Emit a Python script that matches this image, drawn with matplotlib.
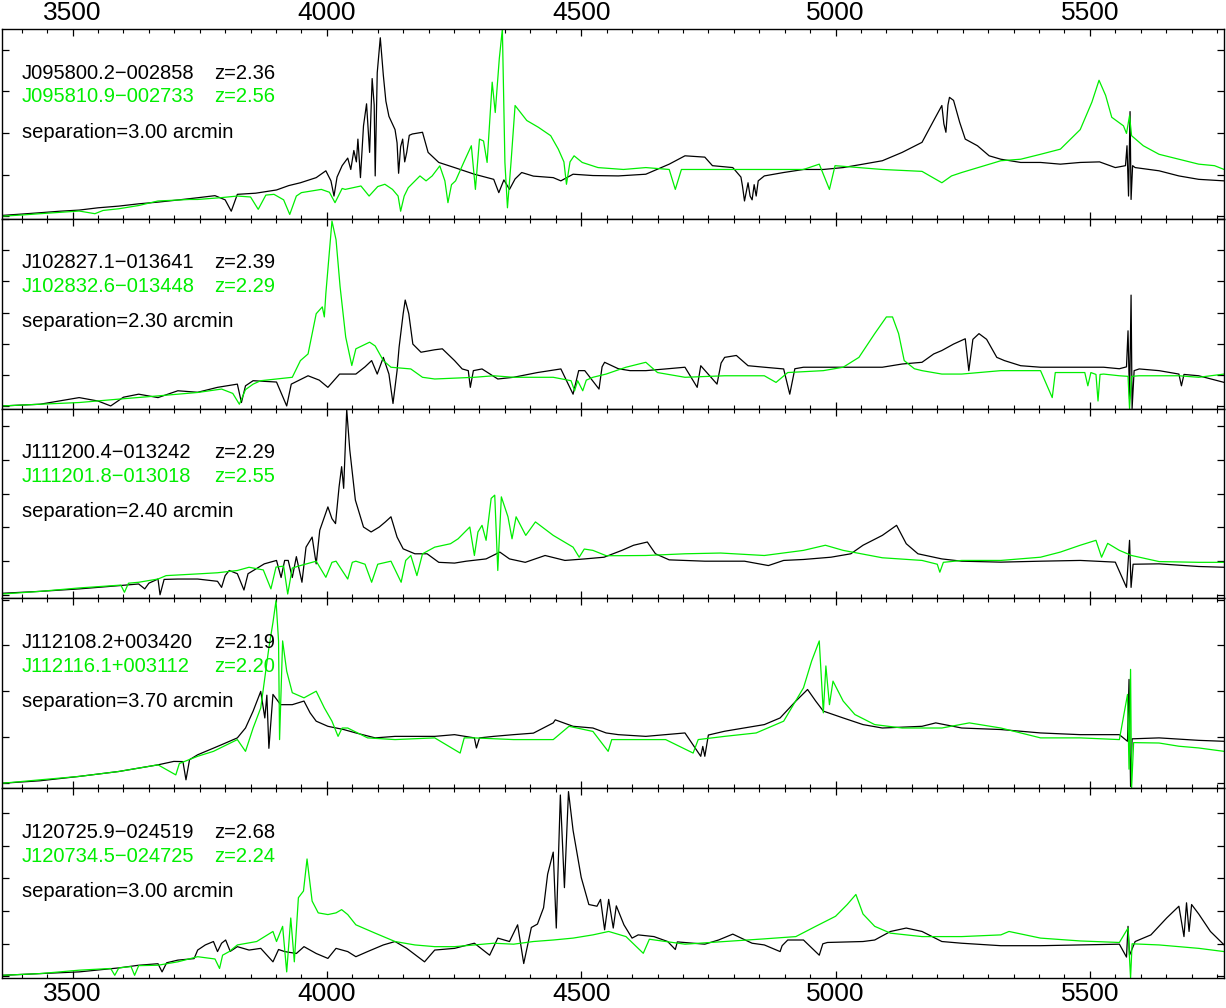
import matplotlib
matplotlib.use('Agg')
import matplotlib.pyplot as plt
from matplotlib.ticker import MultipleLocator, FixedLocator

plt.rcParams['font.family'] = ['Liberation Sans', 'DejaVu Sans']

# ---------------- labels ----------------
black_names = ['J095800.2\u2212002858', 'J102827.1\u2212013641', 'J111200.4\u2212013242',
               'J112108.2+003420', 'J120725.9\u2212024519']
green_names = ['J095810.9\u2212002733', 'J102832.6\u2212013448', 'J111201.8\u2212013018',
               'J112116.1+003112', 'J120734.5\u2212024725']
black_z = ['2.36', '2.39', '2.29', '2.19', '2.68']
green_z = ['2.56', '2.29', '2.55', '2.20', '2.24']
separations = ['3.00', '2.30', '2.40', '3.70', '3.00']

# y tick grid per panel (flux units)
ytick_start = [1.4, 1.4, 1.8, 2.6, 0.9]
ytick_step = [21.9, 16.4, 17.8, 24.2, 17.2]

# ---------------- spectra (wavelength in Angstrom, relative flux) ----------------
p1_black_wl = [3362, 3400, 3436, 3475, 3513, 3550, 3591, 3630, 3668, 3710, 3746, 3780, 3800, 3812, 3824, 3860,
               3901, 3925, 3948, 3979, 3998, 4008, 4014, 4020, 4030, 4041, 4047, 4053, 4058, 4061, 4066, 4072,
               4078, 4084, 4089, 4093, 4095, 4099, 4105, 4111, 4116, 4122, 4134, 4138, 4141, 4145, 4149, 4153,
               4157, 4162, 4168, 4188, 4199, 4220, 4251, 4290, 4328, 4338, 4348, 4359, 4370, 4383, 4406, 4445,
               4460, 4484, 4523, 4573, 4627, 4673, 4704, 4743, 4758, 4798, 4814, 4817, 4821, 4828, 4832, 4836,
               4840, 4844, 4848, 4860, 4898, 4937, 4976, 5015, 5054, 5092, 5131, 5170, 5193, 5209, 5213, 5217,
               5221, 5224, 5232, 5244, 5255, 5279, 5302, 5325, 5364, 5403, 5442, 5481, 5519, 5550, 5570, 5573,
               5576, 5579, 5581, 5584, 5589, 5636, 5675, 5714, 5764]
p1_black_fl = [1.8, 2.5, 3.2, 4.0, 4.6, 5.8, 6.7, 7.9, 8.8, 10.0, 11.1, 12.2, 10.0, 4.0, 12.9, 13.5,
               15.2, 17.5, 19.0, 21.7, 25.3, 20.0, 12.0, 22.0, 28.0, 32.0, 26.0, 36.0, 30.0, 42.0, 21.7, 49.0,
               60.6, 35.0, 73.9, 60.0, 22.6, 77.0, 95.4, 75.6, 62.0, 54.0, 47.0, 40.0, 24.0, 38.0, 42.0, 30.0,
               35.0, 44.0, 44.7, 45.6, 35.0, 29.7, 27.0, 23.5, 20.8, 13.8, 20.5, 15.5, 21.0, 24.4, 22.5, 21.7,
               20.0, 23.5, 22.8, 22.6, 23.5, 28.8, 33.2, 32.5, 28.0, 27.0, 22.0, 17.3, 9.4, 19.0, 12.0, 10.0,
               18.0, 12.0, 20.0, 22.6, 24.4, 26.0, 26.0, 27.0, 28.8, 30.6, 35.0, 40.3, 51.8, 59.7, 50.0, 45.6,
               60.0, 64.0, 62.4, 50.9, 42.0, 38.5, 33.2, 31.4, 29.7, 29.7, 28.8, 29.7, 30.0, 27.0, 28.0, 38.5,
               12.0, 56.5, 10.2, 28.0, 27.0, 25.3, 22.6, 20.8, 20.0]

p1_green_wl = [3362, 3400, 3436, 3475, 3513, 3544, 3560, 3591, 3630, 3668, 3700, 3730, 3746, 3790, 3824, 3850,
               3865, 3880, 3896, 3915, 3927, 3940, 3950, 3989, 4005, 4016, 4030, 4036, 4067, 4083, 4100, 4114,
               4129, 4140, 4145, 4152, 4160, 4183, 4195, 4207, 4222, 4232, 4238, 4245, 4253, 4269, 4284, 4292,
               4300, 4308, 4315, 4325, 4331, 4339, 4345, 4350, 4355, 4362, 4370, 4393, 4416, 4440, 4455, 4466,
               4471, 4478, 4486, 4502, 4533, 4583, 4627, 4673, 4685, 4697, 4782, 4860, 4937, 4968, 4988, 4999,
               5092, 5170, 5209, 5228, 5248, 5325, 5364, 5403, 5442, 5481, 5504, 5518, 5531, 5543, 5566, 5572,
               5578, 5582, 5605, 5636, 5675, 5714, 5745, 5764]
p1_green_fl = [1.4, 2.0, 2.7, 3.4, 4.1, 2.7, 4.4, 5.3, 7.0, 9.4, 9.8, 10.2, 10.2, 11.1, 12.0, 11.5,
               5.0, 12.5, 12.9, 10.0, 2.3, 12.0, 13.8, 15.5, 14.0, 8.5, 16.0, 15.5, 17.3, 12.0, 17.0, 18.2,
               15.5, 12.0, 4.0, 12.0, 16.4, 22.6, 20.0, 22.6, 27.9, 20.0, 8.5, 18.0, 20.0, 29.7, 38.5, 15.5,
               42.0, 41.0, 29.7, 72.0, 56.0, 84.5, 100.0, 29.7, 5.8, 29.7, 59.7, 51.8, 48.2, 43.8, 36.7, 30.0,
               18.2, 30.0, 33.2, 29.7, 27.0, 26.0, 27.0, 26.0, 15.5, 26.0, 26.0, 26.0, 26.0, 28.8, 15.5, 28.0,
               26.0, 25.0, 19.0, 22.6, 24.4, 30.6, 31.4, 34.0, 36.7, 47.0, 61.5, 73.0, 65.0, 53.5, 49.0, 45.0,
               54.4, 43.8, 38.5, 34.0, 31.4, 28.8, 28.0, 26.0]

p2_black_wl = [3362, 3436, 3513, 3550, 3575, 3600, 3630, 3668, 3707, 3746, 3785, 3824, 3832, 3840, 3855, 3901,
               3921, 3930, 3963, 3985, 4002, 4025, 4057, 4075, 4088, 4099, 4111, 4122, 4130, 4138, 4142, 4150,
               4154, 4161, 4169, 4185, 4212, 4227, 4251, 4266, 4278, 4282, 4288, 4305, 4336, 4367, 4414, 4460,
               4484, 4495, 4507, 4535, 4541, 4546, 4573, 4596, 4627, 4666, 4704, 4728, 4735, 4767, 4775, 4782,
               4805, 4828, 4860, 4898, 4910, 4920, 4937, 4976, 5015, 5054, 5092, 5131, 5170, 5193, 5209, 5232,
               5255, 5262, 5270, 5282, 5297, 5317, 5332, 5364, 5403, 5442, 5481, 5527, 5558, 5572, 5575, 5578,
               5581, 5583, 5587, 5597, 5636, 5675, 5680, 5685, 5714, 5764]
p2_black_fl = [1.4, 2.3, 5.8, 4.0, 1.4, 6.0, 7.6, 5.8, 9.4, 8.6, 11.2, 12.9, 3.2, 12.0, 14.7, 14.0,
               1.4, 12.9, 17.3, 15.0, 11.2, 18.2, 18.2, 22.0, 25.3, 18.2, 27.0, 18.2, 2.7, 20.0, 32.4, 50.0,
               57.2, 50.0, 34.0, 29.7, 31.0, 31.5, 25.3, 20.9, 20.0, 11.2, 20.0, 20.9, 15.6, 16.5, 19.0, 20.9,
               7.6, 20.0, 20.0, 10.3, 22.0, 24.4, 21.0, 20.0, 20.0, 20.9, 21.8, 11.2, 22.6, 12.9, 24.0, 27.0,
               28.0, 22.6, 21.8, 20.9, 7.6, 21.0, 21.8, 21.8, 21.8, 21.8, 21.8, 23.5, 24.4, 28.8, 30.6, 34.0,
               36.8, 20.0, 36.5, 39.5, 36.5, 27.0, 25.3, 22.6, 21.8, 21.8, 21.8, 21.8, 21.0, 22.0, 41.0, 5.0,
               59.8, 0.0, 20.0, 20.9, 20.0, 18.2, 12.0, 18.0, 17.3, 13.8]

p2_green_wl = [3362, 3436, 3513, 3591, 3668, 3746, 3793, 3815, 3828, 3840, 3855, 3870, 3901, 3932, 3948, 3963,
               3979, 3991, 3995, 3998, 4010, 4018, 4026, 4037, 4049, 4057, 4084, 4095, 4111, 4126, 4165, 4188,
               4212, 4290, 4328, 4367, 4445, 4480, 4487, 4493, 4503, 4510, 4523, 4549, 4588, 4627, 4650, 4704,
               4782, 4860, 4883, 4906, 4976, 5015, 5046, 5077, 5100, 5112, 5124, 5135, 5155, 5170, 5209, 5248,
               5325, 5403, 5426, 5432, 5442, 5490, 5496, 5502, 5512, 5516, 5520, 5527, 5558, 5575, 5578, 5582,
               5597, 5675, 5714, 5764]
p2_green_fl = [1.4, 2.3, 3.2, 5.0, 6.7, 8.5, 10.3, 8.0, 2.3, 10.0, 12.9, 14.7, 15.6, 16.5, 25.3, 28.8,
               50.0, 53.6, 48.3, 60.7, 98.8, 89.0, 64.2, 37.7, 22.7, 31.5, 35.0, 33.0, 25.3, 21.8, 20.9, 16.5,
               15.6, 16.5, 17.3, 16.5, 16.5, 14.7, 9.4, 14.7, 9.4, 15.0, 16.5, 18.2, 21.8, 24.4, 19.0, 16.5,
               17.3, 17.3, 13.8, 19.0, 20.0, 21.8, 27.0, 39.5, 48.3, 48.3, 39.5, 25.3, 21.0, 20.0, 18.2, 18.2,
               20.0, 20.0, 5.8, 19.0, 19.0, 19.0, 12.0, 19.0, 18.0, 4.0, 18.0, 18.2, 17.3, 17.0, 0.0, 17.0,
               17.3, 17.3, 16.5, 18.2]

p3_black_wl = [3362, 3436, 3513, 3591, 3630, 3642, 3650, 3668, 3672, 3680, 3707, 3746, 3785, 3793, 3800, 3808,
               3824, 3837, 3845, 3877, 3901, 3910, 3917, 3924, 3932, 3940, 3951, 3959, 3971, 3979, 3986, 4002,
               4010, 4017, 4024, 4029, 4033, 4039, 4045, 4056, 4072, 4087, 4103, 4115, 4126, 4138, 4150, 4173,
               4197, 4220, 4251, 4274, 4313, 4340, 4359, 4390, 4429, 4468, 4507, 4545, 4580, 4603, 4630, 4646,
               4673, 4743, 4821, 4868, 4898, 4937, 4991, 5030, 5054, 5092, 5120, 5139, 5162, 5209, 5248, 5325,
               5403, 5481, 5550, 5572, 5578, 5581, 5585, 5636, 5714, 5764]
p3_black_fl = [2.7, 3.7, 5.0, 6.7, 7.6, 5.0, 8.0, 10.2, 1.9, 10.0, 10.2, 10.2, 9.0, 5.8, 12.0, 14.7,
               13.0, 4.4, 13.0, 18.2, 20.0, 11.0, 20.0, 20.0, 11.0, 22.0, 8.5, 27.0, 32.3, 18.2, 35.9, 48.2,
               42.0, 39.4, 58.8, 69.4, 58.0, 99.5, 78.3, 51.8, 37.6, 35.0, 37.6, 40.3, 43.0, 32.3, 26.1, 23.5,
               23.5, 19.0, 18.6, 19.6, 20.8, 24.4, 20.8, 19.0, 22.6, 20.0, 20.8, 21.7, 25.3, 28.0, 29.7, 23.5,
               20.3, 19.6, 19.6, 17.3, 20.0, 20.5, 21.7, 23.5, 28.0, 33.2, 38.5, 28.8, 23.5, 20.8, 19.6, 19.1,
               19.6, 20.0, 19.1, 5.8, 30.6, 5.8, 18.0, 18.2, 16.8, 16.4]

p3_green_wl = [3362, 3436, 3513, 3595, 3602, 3610, 3630, 3668, 3684, 3746, 3785, 3824, 3847, 3875, 3890, 3900,
               3915, 3923, 3932, 3948, 3979, 3998, 4010, 4018, 4041, 4050, 4057, 4075, 4088, 4100, 4126, 4146,
               4155, 4165, 4177, 4188, 4212, 4243, 4258, 4281, 4290, 4297, 4305, 4313, 4323, 4330, 4336, 4343,
               4356, 4364, 4372, 4391, 4410, 4445, 4484, 4496, 4506, 4523, 4549, 4580, 4627, 4704, 4774, 4860,
               4937, 4980, 5015, 5092, 5170, 5200, 5205, 5212, 5248, 5325, 5403, 5442, 5481, 5512, 5523, 5535,
               5558, 5582, 5636, 5714, 5764]
p3_green_fl = [2.3, 3.7, 5.5, 7.0, 3.2, 8.0, 8.5, 10.2, 12.0, 12.9, 13.5, 14.7, 16.4, 15.0, 5.0, 16.5,
               17.0, 2.3, 16.0, 17.3, 19.6, 11.1, 19.0, 19.6, 10.2, 19.0, 19.6, 18.0, 8.5, 18.0, 19.6, 8.5,
               20.0, 22.6, 12.0, 23.5, 27.0, 28.8, 31.4, 37.6, 22.6, 35.0, 38.5, 30.6, 52.7, 54.4, 14.7, 53.5,
               43.0, 31.4, 43.0, 33.2, 40.3, 33.2, 27.0, 21.7, 26.0, 25.3, 22.5, 22.5, 22.6, 23.5, 23.9, 22.6,
               25.3, 28.0, 25.3, 21.4, 20.0, 18.0, 13.8, 19.0, 20.0, 20.0, 21.7, 24.4, 28.0, 30.6, 21.7, 29.0,
               25.3, 22.6, 19.4, 19.0, 19.0]

p4_black_wl = [3362, 3436, 3513, 3591, 3668, 3699, 3717, 3723, 3730, 3746, 3793, 3824, 3840, 3855, 3870, 3878,
               3882, 3886, 3894, 3909, 3932, 3955, 3967, 3979, 4002, 4033, 4057, 4095, 4134, 4173, 4212, 4251,
               4290, 4294, 4300, 4328, 4367, 4406, 4445, 4449, 4484, 4523, 4549, 4573, 4627, 4704, 4735, 4739,
               4743, 4750, 4782, 4860, 4891, 4922, 4945, 4961, 4976, 5015, 5054, 5092, 5170, 5197, 5248, 5325,
               5403, 5481, 5558, 5574, 5577, 5580, 5583, 5636, 5714, 5764]
p4_black_fl = [2.6, 3.9, 6.2, 8.8, 12.3, 14.1, 14.0, 4.4, 15.0, 17.6, 22.9, 26.5, 31.7, 40.6, 51.0, 37.0,
               49.0, 21.0, 49.4, 44.0, 44.0, 45.9, 39.7, 35.3, 32.6, 30.9, 29.1, 26.5, 27.3, 27.3, 27.3, 28.2,
               26.5, 21.2, 26.5, 27.3, 28.2, 29.0, 34.4, 36.0, 32.6, 31.7, 29.1, 28.2, 27.3, 29.1, 16.8, 22.0,
               16.8, 28.0, 30.0, 33.5, 37.0, 45.9, 52.0, 45.9, 40.6, 37.0, 33.5, 31.7, 32.6, 34.4, 31.7, 30.9,
               29.1, 28.2, 28.2, 24.7, 57.3, 0.9, 26.0, 26.5, 25.2, 24.7]

p4_green_wl = [3362, 3436, 3513, 3591, 3668, 3703, 3710, 3746, 3777, 3824, 3840, 3855, 3870, 3886, 3894, 3900,
               3905, 3907, 3913, 3921, 3932, 3955, 3979, 3995, 4010, 4022, 4030, 4041, 4080, 4134, 4212, 4262,
               4270, 4290, 4367, 4445, 4476, 4523, 4553, 4560, 4588, 4666, 4720, 4730, 4782, 4844, 4898, 4937,
               4953, 4968, 4976, 4981, 4988, 4995, 5015, 5038, 5077, 5131, 5209, 5263, 5325, 5364, 5403, 5481,
               5558, 5574, 5577, 5580, 5582, 5586, 5636, 5675, 5714, 5764]
p4_green_fl = [2.6, 4.4, 6.2, 8.8, 12.3, 7.0, 13.0, 16.8, 19.4, 25.6, 19.4, 31.7, 42.3, 74.0, 87.3, 98.8,
               77.6, 25.6, 77.6, 61.7, 50.3, 47.6, 51.1, 42.3, 35.3, 27.3, 31.7, 31.7, 26.5, 25.6, 26.5, 18.5,
               26.5, 26.5, 25.6, 25.6, 32.6, 29.9, 19.4, 25.6, 25.6, 25.6, 18.5, 25.6, 27.3, 29.1, 35.3, 52.9,
               67.0, 77.6, 39.7, 64.4, 44.0, 56.4, 45.9, 38.8, 33.5, 31.7, 31.7, 34.4, 31.7, 29.1, 26.5, 26.5,
               25.6, 49.4, 10.0, 62.6, 0.0, 24.0, 23.8, 22.1, 21.2, 19.4]

p5_black_wl = [3362, 3436, 3513, 3591, 3630, 3668, 3676, 3685, 3707, 3739, 3746, 3761, 3777, 3785, 3793, 3801,
               3810, 3824, 3847, 3870, 3894, 3905, 3917, 3940, 3955, 3979, 4002, 4018, 4041, 4057, 4080, 4111,
               4134, 4157, 4192, 4212, 4251, 4290, 4320, 4336, 4359, 4375, 4387, 4402, 4414, 4426, 4434, 4445,
               4451, 4459, 4467, 4475, 4484, 4500, 4515, 4531, 4538, 4546, 4554, 4563, 4569, 4584, 4600, 4612,
               4643, 4670, 4685, 4689, 4743, 4770, 4798, 4836, 4860, 4891, 4895, 4906, 4937, 4968, 4975, 4984,
               5054, 5077, 5108, 5139, 5170, 5209, 5248, 5325, 5403, 5481, 5558, 5572, 5575, 5578, 5589, 5620,
               5651, 5675, 5685, 5690, 5695, 5700, 5714, 5737, 5764]
p5_black_fl = [1.4, 2.3, 3.2, 5.3, 6.7, 7.5, 3.2, 8.0, 9.4, 10.2, 14.7, 17.4, 19.2, 13.9, 18.3, 20.0,
               14.0, 16.5, 14.7, 15.6, 8.5, 15.0, 13.9, 12.9, 16.5, 12.9, 10.3, 15.6, 13.9, 11.2, 13.9, 17.4,
               19.2, 15.6, 8.5, 14.7, 15.6, 18.3, 12.0, 21.0, 19.2, 28.0, 7.6, 26.6, 28.4, 37.0, 54.7, 66.3,
               26.3, 96.4, 47.6, 98.2, 77.8, 53.0, 38.7, 37.8, 41.4, 25.4, 41.4, 26.3, 38.0, 28.0, 21.0, 22.7,
               21.8, 19.2, 15.0, 19.0, 17.8, 20.0, 23.1, 18.3, 17.4, 13.9, 17.0, 20.0, 20.0, 12.0, 18.0, 18.7,
               19.2, 20.0, 24.5, 26.3, 24.5, 19.2, 18.3, 17.0, 17.0, 17.4, 17.8, 11.0, 27.2, 12.0, 19.2, 22.7,
               31.6, 37.8, 21.8, 39.6, 24.5, 38.7, 33.7, 24.5, 17.4]

p5_green_wl = [3362, 3436, 3513, 3575, 3583, 3591, 3615, 3622, 3630, 3668, 3707, 3746, 3780, 3789, 3795, 3808,
               3824, 3862, 3894, 3901, 3913, 3921, 3929, 3936, 3944, 3954, 3961, 3971, 3983, 4002, 4018, 4029,
               4041, 4057, 4095, 4134, 4173, 4212, 4251, 4290, 4328, 4367, 4406, 4445, 4484, 4523, 4554, 4588,
               4622, 4634, 4704, 4782, 4860, 4922, 4961, 5000, 5023, 5040, 5054, 5077, 5108, 5170, 5248, 5325,
               5341, 5403, 5481, 5558, 5575, 5578, 5580, 5583, 5636, 5714, 5764]
p5_green_fl = [1.4, 2.3, 4.1, 5.0, 1.4, 5.3, 6.0, 1.4, 6.5, 6.7, 8.5, 11.2, 10.0, 5.0, 12.0, 13.9,
               17.4, 19.2, 24.5, 19.2, 27.2, 3.2, 31.6, 8.5, 42.3, 45.8, 62.7, 40.5, 34.3, 33.4, 34.3, 36.0,
               33.4, 28.0, 23.6, 19.2, 17.4, 16.5, 16.5, 17.4, 18.3, 17.8, 19.2, 20.0, 21.0, 22.7, 24.5, 21.8,
               13.0, 20.4, 17.8, 19.2, 20.6, 21.8, 27.2, 32.5, 38.7, 44.0, 33.7, 27.2, 23.6, 21.8, 21.8, 22.7,
               24.5, 21.0, 19.5, 18.7, 26.3, 10.0, 0.0, 18.0, 17.4, 15.6, 13.9]

black_wl = [p1_black_wl, p2_black_wl, p3_black_wl, p4_black_wl, p5_black_wl]
black_fl = [p1_black_fl, p2_black_fl, p3_black_fl, p4_black_fl, p5_black_fl]
green_wl = [p1_green_wl, p2_green_wl, p3_green_wl, p4_green_wl, p5_green_wl]
green_fl = [p1_green_fl, p2_green_fl, p3_green_fl, p4_green_fl, p5_green_fl]

GREEN = '#00ee00'

fig = plt.figure(figsize=(12.26, 10.08), dpi=100)
axes = fig.subplots(5, 1, sharex=True)
fig.subplots_adjust(left=0.0015, right=0.9985, top=0.9712, bottom=0.0298, hspace=0)

for i, ax in enumerate(axes):
    ax.plot(black_wl[i], black_fl[i], color='black', lw=0.9)
    ax.plot(green_wl[i], green_fl[i], color=GREEN, lw=0.9)
    ax.set_xlim(3361, 5764)
    ax.set_ylim(0, 100)
    ax.xaxis.set_major_locator(MultipleLocator(500))
    ax.xaxis.set_minor_locator(MultipleLocator(50))
    yt = [ytick_start[i] + k * ytick_step[i] for k in range(8)]
    yt = [v for v in yt if v < 100]
    ax.yaxis.set_major_locator(FixedLocator(yt))
    ax.tick_params(axis='both', which='both', direction='in', top=True, right=True,
                   labelleft=False, labelright=False, labeltop=False, labelbottom=False)
    ax.tick_params(axis='both', which='major', length=5, width=0.9)
    ax.tick_params(axis='both', which='minor', length=3, width=0.8)
    for s in ax.spines.values():
        s.set_linewidth(1.0)
    ax.text(0.0165, 0.768, black_names[i], transform=ax.transAxes, fontsize=14.5,
            color='black', va='center', ha='left')
    ax.text(0.174, 0.768, 'z=' + black_z[i], transform=ax.transAxes, fontsize=14.5,
            color='black', va='center', ha='left')
    ax.text(0.0165, 0.642, green_names[i], transform=ax.transAxes, fontsize=14.5,
            color=GREEN, va='center', ha='left')
    ax.text(0.174, 0.642, 'z=' + green_z[i], transform=ax.transAxes, fontsize=14.5,
            color=GREEN, va='center', ha='left')
    ax.text(0.0165, 0.457, 'separation=' + separations[i] + ' arcmin', transform=ax.transAxes,
            fontsize=14.5, color='black', va='center', ha='left')

axes[0].tick_params(axis='x', which='major', labeltop=True, labelsize=19, pad=3)
axes[-1].tick_params(axis='x', which='major', labelbottom=True, labelsize=19, pad=3)

fig.savefig('out.png', dpi=100)
